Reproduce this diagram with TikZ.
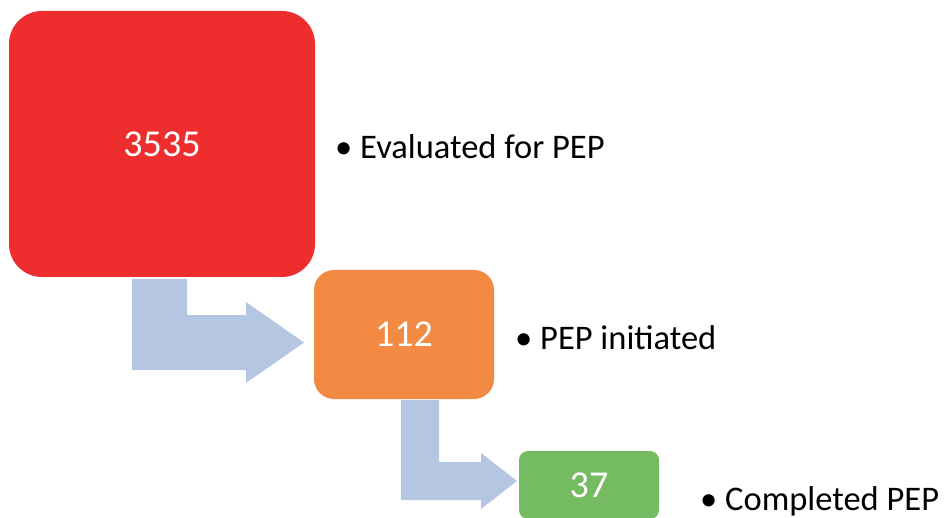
\documentclass[tikz,border=0pt]{standalone}
\usepackage{fontspec}
\setmainfont{Carlito}
\definecolor{boxred}{RGB}{238,46,46}
\definecolor{boxorange}{RGB}{242,138,68}
\definecolor{boxgreen}{RGB}{117,187,98}
\definecolor{arrowblue}{RGB}{181,198,227}
\begin{document}
\begin{tikzpicture}[x=1pt,y=-1pt,
  numbox/.style={draw=none,text=white,inner sep=0pt,
    font=\fontsize{38}{45}\selectfont},
  bulletlabel/.style={anchor=base west,inner sep=0pt,text=black,
    font=\fontsize{34.5}{41}\selectfont},
  bentarrow/.style={fill=arrowblue,draw=none}]
\useasboundingbox (0,0) rectangle (944,518);
\clip (0,0) rectangle (944,518);
% bent arrows
\fill[bentarrow] (132,279) -- (187,279) -- (187,315) -- (246,315) -- (246,302)
  -- (304,342.5) -- (246,383) -- (246,370) -- (132,370) -- cycle;
\fill[bentarrow] (401,400) -- (439,400) -- (439,462) -- (481,462) -- (481,453)
  -- (517,481) -- (481,509) -- (481,500) -- (401,500) -- cycle;
% boxes
\node[numbox,fill=boxred,rounded corners=33pt,minimum width=306pt,minimum height=266pt]
  (red) at (162,144) {3535};
\node[numbox,fill=boxorange,rounded corners=20pt,minimum width=180pt,minimum height=129pt]
  (orange) at (404,334.5) {112};
\node[numbox,fill=boxgreen,rounded corners=9pt,minimum width=140pt,minimum height=68pt]
  (green) at (589,485) {37};
% labels
\node[bulletlabel] (l1) at (335,159) {\makebox[25pt][l]{\textbullet}Evaluated for PEP};
\node[bulletlabel] (l2) at (515,349) {\makebox[25pt][l]{\textbullet}PEP initiated};
\node[bulletlabel] (l3) at (700,510) {\makebox[25pt][l]{\textbullet}Completed PEP};
\end{tikzpicture}
\end{document}
